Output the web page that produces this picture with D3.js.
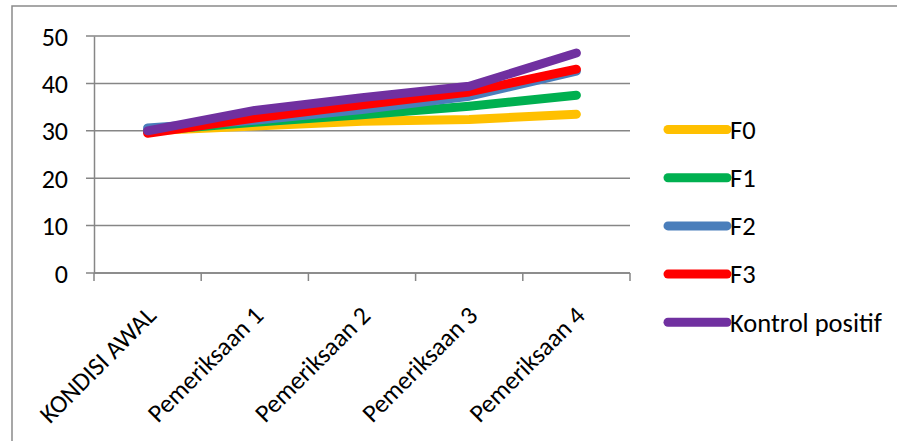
<!DOCTYPE html>
<html>
<head>
<meta charset="utf-8">
<script src="https://cdn.jsdelivr.net/npm/d3@7"></script>
<style>
  body { margin: 0; background: #fff; }
  text { font-family: Calibri, Carlito, "Open Sans", "Liberation Sans", sans-serif; fill: #000; }
</style>
</head>
<body>
<svg id="chart"></svg>
<script>
const width = 897;
const height = 441;
const padding = { left: 94, right: 267, top: 36, down: 168 };

// data
const categories = ['KONDISI AWAL', 'Pemeriksaan 1', 'Pemeriksaan 2', 'Pemeriksaan 3', 'Pemeriksaan 4'];
const seriesNames = ['F0', 'F1', 'F2', 'F3', 'Kontrol positif'];
const seriesColors = ['#FFC000', '#00B050', '#4A7EBB', '#FF0000', '#7030A0'];
const f0 = [30.0, 31.0, 32.0, 32.4, 33.5];
const f1 = [30.0, 31.8, 33.4, 35.2, 37.5];
const f2 = [30.6, 32.2, 34.5, 37.3, 42.6];
const f3 = [29.5, 32.7, 35.5, 38.2, 43.0];
const kontrol = [30.0, 34.3, 37.0, 39.4, 46.4];
const yTicks = [0, 10, 20, 30, 40, 50];

const allSeries = [f0, f1, f2, f3, kontrol];

const svg = d3.select('#chart')
  .attr('width', width)
  .attr('height', height);

// outer chart border (only top and left visible, rest cropped)
svg.append('path')
  .attr('d', `M12,${height} L12,6 L${width},6`)
  .attr('fill', 'none')
  .attr('stroke', '#8a8a8a')
  .attr('stroke-width', 1.5);

const xScale = d3.scalePoint()
  .domain(categories)
  .range([padding.left, width - padding.right])
  .padding(0.5);

const yScale = d3.scaleLinear()
  .domain([0, 50])
  .range([height - padding.down, padding.top]);

const step = xScale.step();

// gridlines
svg.append('g')
  .selectAll('line')
  .data(yTicks)
  .join('line')
  .attr('x1', padding.left - 8)
  .attr('x2', width - padding.right)
  .attr('y1', d => yScale(d))
  .attr('y2', d => yScale(d))
  .attr('stroke', '#868686')
  .attr('stroke-width', 1.5);

// y-axis
const yAxis = d3.axisLeft(yScale)
  .tickValues(yTicks)
  .tickSize(0)
  .tickPadding(26);

svg.append('g')
  .attr('transform', `translate(${padding.left}, 0)`)
  .call(yAxis)
  .call(g => g.select('.domain').attr('stroke', '#868686').attr('stroke-width', 1.5))
  .call(g => g.selectAll('text').style('font-size', '26px').attr('dy', '0.35em'));

// x-axis line + tick marks at category boundaries
const xBase = height - padding.down;
svg.append('line')
  .attr('x1', padding.left)
  .attr('x2', width - padding.right)
  .attr('y1', xBase)
  .attr('y2', xBase)
  .attr('stroke', '#868686')
  .attr('stroke-width', 1.5);

svg.append('g')
  .selectAll('line')
  .data(d3.range(categories.length + 1))
  .join('line')
  .attr('x1', i => padding.left + i * step)
  .attr('x2', i => padding.left + i * step)
  .attr('y1', xBase)
  .attr('y2', xBase + 8)
  .attr('stroke', '#868686')
  .attr('stroke-width', 1.5);

// x labels rotated
svg.append('g')
  .selectAll('text')
  .data(categories)
  .join('text')
  .attr('text-anchor', 'end')
  .attr('transform', d => `translate(${xScale(d) + 10}, ${xBase + 44}) rotate(-45)`)
  .style('font-size', '25.5px')
  .text(d => d);

// lines
const line = d3.line()
  .x((d, i) => xScale(categories[i]))
  .y(d => yScale(d));

svg.append('g')
  .selectAll('path')
  .data(allSeries)
  .join('path')
  .attr('d', d => line(d))
  .attr('fill', 'none')
  .attr('stroke', (d, i) => seriesColors[i])
  .attr('stroke-width', 9)
  .attr('stroke-linecap', 'round')
  .attr('stroke-linejoin', 'round');

// legend
const legend = svg.append('g')
  .selectAll('g')
  .data(seriesNames)
  .join('g')
  .attr('transform', (d, i) => `translate(668, ${129.5 + i * 48.2})`);

legend.append('line')
  .attr('x1', 0)
  .attr('x2', 59)
  .attr('stroke', (d, i) => seriesColors[i])
  .attr('stroke-width', 9)
  .attr('stroke-linecap', 'round');

legend.append('text')
  .attr('x', 62)
  .attr('dy', '0.35em')
  .style('font-size', '26.5px')
  .text(d => d);
</script>
</body>
</html>
